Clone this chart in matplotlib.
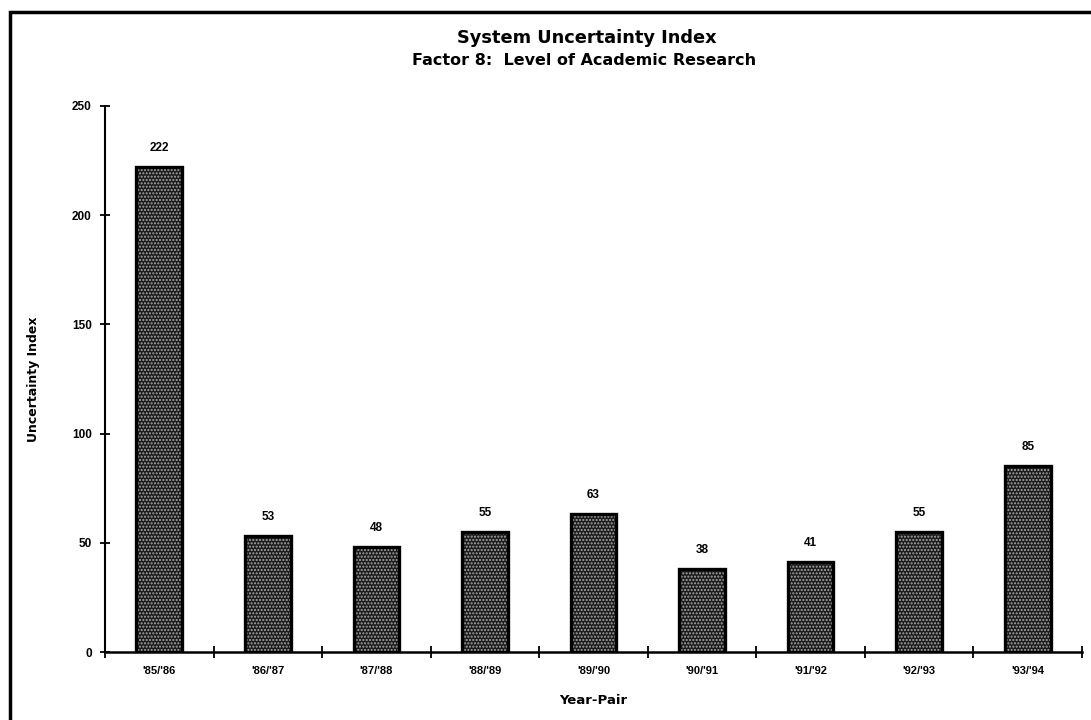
import matplotlib
matplotlib.use("Agg")
import matplotlib.pyplot as plt
from matplotlib.patches import Rectangle
import numpy as np

plt.rcParams['font.family'] = ['Liberation Sans', 'DejaVu Sans']
plt.rcParams['font.weight'] = 'bold'
HEAVY = ['DejaVu Sans']

year_pairs = ["'85/'86", "'86/'87", "'87/'88", "'88/'89", "'89/'90",
              "'90/'91", "'91/'92", "'92/'93", "'93/'94"]
uncertainty = [222, 53, 48, 55, 63, 38, 41, 55, 85]
y_ticks = [0, 50, 100, 150, 200, 250]

fig = plt.figure(figsize=(10.91, 7.2), dpi=100)
ax = fig.add_axes([0.0962, 0.0944, 0.8956, 0.7584])

x = np.arange(len(year_pairs))
width = 0.42

# stippled fill, then a solid black outline on top
ax.bar(x, uncertainty, width=width, color='#1c1c1c', edgecolor='#a8a8a8',
       hatch='.....', linewidth=0, zorder=2)
ax.bar(x, uncertainty, width=width, fill=False, edgecolor='black',
       linewidth=2.4, zorder=3)

for xi, v in zip(x, uncertainty):
    ax.text(xi, v + 6, str(v), ha='center', va='bottom', fontsize=8.5,
            fontweight='bold')

ax.set_xlim(-0.5, len(year_pairs) - 0.5)
ax.set_ylim(0, 250)
ax.set_yticks(y_ticks)
ax.set_yticklabels([str(t) for t in y_ticks], fontsize=8.5, fontweight='bold')

# category labels between boundary ticks
ax.set_xticks(np.arange(len(year_pairs) + 1) - 0.5)
ax.set_xticklabels([])
ax.set_xticks(x, minor=True)
ax.set_xticklabels(year_pairs, minor=True, fontsize=8, fontweight='bold')
ax.tick_params(axis='x', which='minor', length=0, pad=10)
ax.tick_params(axis='x', which='major', direction='inout', length=8, width=1.3)
ax.tick_params(axis='y', direction='inout', length=7, width=1.3, pad=6)

for s in ['top', 'right']:
    ax.spines[s].set_visible(False)
ax.spines['left'].set_linewidth(1.5)
ax.spines['bottom'].set_linewidth(1.8)

ax.set_xlabel('Year-Pair', fontsize=9.5, fontweight='bold', family=HEAVY,
              labelpad=13)
ax.set_ylabel('Uncertainty Index', fontsize=9, fontweight='bold', family=HEAVY,
              labelpad=23)

fig.text(0.538, 0.947, 'System Uncertainty Index', ha='center', va='center',
         fontsize=12.8, fontweight='bold', family=HEAVY)
fig.text(0.535, 0.916, 'Factor 8:  Level of Academic Research', ha='center',
         va='center', fontsize=11.5, fontweight='bold', family=HEAVY)

# page frame around the chart
fig.patches.append(Rectangle((10 / 1091, -0.05), 1.2, 0.05 + 1 - 12 / 720,
                             transform=fig.transFigure, fill=False,
                             edgecolor='black', linewidth=2.5))

fig.savefig('out.png', dpi=100)
